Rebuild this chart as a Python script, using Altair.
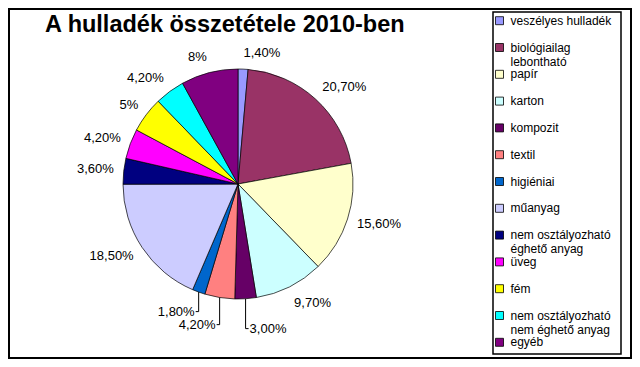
import altair as alt
import pandas as pd

# ---- data ----
categories = [
    "veszélyes hulladék", "biológiailag lebontható", "papír", "karton",
    "kompozit", "textil", "higiéniai", "műanyag",
    "nem osztályozható éghető anyag", "üveg", "fém",
    "nem osztályozható nem éghető anyag", "egyéb",
]
values = [1.4, 20.7, 15.6, 9.7, 3.0, 4.2, 1.8, 18.5, 3.6, 4.2, 5.0, 4.2, 8.0]
pct_labels = ["1,40%", "20,70%", "15,60%", "9,70%", "3,00%", "4,20%", "1,80%",
              "18,50%", "3,60%", "4,20%", "5%", "4,20%", "8%"]
colors = ["#9999FF", "#993366", "#FFFFCC", "#CCFFFF", "#660066", "#FF8080",
          "#0066CC", "#CCCCFF", "#000080", "#FF00FF", "#FFFF00", "#00FFFF",
          "#800080"]
legend_wrap = {
    "biológiailag lebontható": ["biológiailag", "lebontható"],
    "nem osztályozható éghető anyag": ["nem osztályozható", "éghető anyag"],
    "nem osztályozható nem éghető anyag": ["nem osztályozható", "nem éghető anyag"],
}
title_text = "A hulladék összetétele 2010-ben"

df = pd.DataFrame({
    "cat": categories,
    "value": values,
    "lab": pct_labels,
    "idx": list(range(len(categories))),
    "legtext": ["|".join(legend_wrap.get(c, [c])) for c in categories],
})
total = float(sum(values))

FONT = "Liberation Sans"
W, H = 624, 351
CX, CY = 230, 176          # pie centre (chart coordinates)
R = 115                    # pie radius
GAP = 10                   # gap between pie edge and label
LH = 13                    # label font size
TWO_PI = 6.283185307179586

theta_scale = alt.Scale(domain=[0, total], range=[0, TWO_PI])
color_scale = alt.Scale(domain=categories, range=colors)

base = alt.Chart(df)

pie = base.mark_arc(outerRadius=R, stroke="#000", strokeWidth=0.7).encode(
    theta=alt.Theta("value:Q", stack=True, scale=theta_scale),
    color=alt.Color("cat:N", sort=categories, scale=color_scale, legend=None),
    order=alt.Order("idx:Q"),
    x=alt.value(CX), y=alt.value(CY),
)

# label geometry derived from each slice's middle angle
lab_base = base.transform_window(
    cum="sum(value)", sort=[alt.SortField("idx")]
).transform_calculate(
    mid="datum.cum - datum.value / 2",
).transform_calculate(
    ang=f"datum.mid / {total} * {TWO_PI}",
).transform_calculate(
    s="sin(datum.ang)", c="cos(datum.ang)",
).transform_calculate(
    push="14 * pow(max(0, -datum.c), 20)",
    px=f"{CX} + {R + GAP} * datum.s",
    xe=f"{CX} + {R} * datum.s",
    ye=f"{CY} - {R} * datum.c",
).transform_calculate(
    lead="datum.push > 3",
    py=f"{CY} - {R + GAP + LH / 2} * datum.c + datum.push",
).transform_calculate(
    tx="datum.lead ? (datum.s >= 0 ? max(datum.px, datum.xe + 4) : min(datum.px, datum.xe - 4)) : datum.px",
).transform_calculate(
    hx2="datum.s >= 0 ? datum.tx - 1 : datum.tx + 1",
)


def label_layer(cond, align):
    return lab_base.transform_filter(cond).mark_text(
        align=align, baseline="middle", font=FONT, fontSize=LH, color="#000"
    ).encode(
        x=alt.X("tx:Q", scale=None), y=alt.Y("py:Q", scale=None), text="lab:N",
    )


labels_right = label_layer("datum.mid < 50", "left")
labels_left = label_layer("datum.mid >= 50", "right")

leader_v = lab_base.transform_filter("datum.lead").mark_rule(color="#000", strokeWidth=1).encode(
    x=alt.X("xe:Q", scale=None), y=alt.Y("ye:Q", scale=None), y2="py:Q",
)
leader_h = lab_base.transform_filter("datum.lead").mark_rule(color="#000", strokeWidth=1).encode(
    x=alt.X("xe:Q", scale=None), x2="hx2:Q", y=alt.Y("py:Q", scale=None),
)

# legend drawn as marks
leg_y = alt.Y("idx:Q", scale=alt.Scale(domain=[0, 12], range=[12.7, 334.3]), axis=None)
leg_sym = base.mark_square(size=64, stroke="#000", strokeWidth=0.8, opacity=1).encode(
    x=alt.value(491.5), y=leg_y,
    color=alt.Color("cat:N", sort=categories, scale=color_scale, legend=None),
)
leg_txt = base.mark_text(
    align="left", baseline="alphabetic", dy=4, lineBreak="|", lineHeight=14,
    font=FONT, fontSize=12, color="#000",
).encode(x=alt.value(502.5), y=leg_y, text="legtext:N")

one = alt.Data(values=[{"k": 1}])
frame = alt.Chart(one).mark_rect(fill="white", stroke="#000", strokeWidth=2).encode(
    x=alt.value(1), x2=alt.value(W - 1), y=alt.value(1), y2=alt.value(H - 1)
)
legend_box = alt.Chart(one).mark_rect(fill="white", stroke="#000", strokeWidth=1.5).encode(
    x=alt.value(485), x2=alt.value(613), y=alt.value(4), y2=alt.value(346)
)
title = alt.Chart(one).mark_text(
    align="left", baseline="alphabetic", font=FONT, fontSize=23.5,
    fontWeight="bold", color="#000"
).encode(x=alt.value(37), y=alt.value(24), text=alt.value(title_text))

chart = alt.layer(
    frame, legend_box, pie, leader_v, leader_h, labels_right, labels_left,
    leg_sym, leg_txt, title
).resolve_scale(x="independent", y="independent").properties(
    width=W, height=H, padding=0,
    autosize=alt.AutoSizeParams(type="none"),
).configure_view(stroke=None).configure(background="white")

chart.save("out.html", embed_options={"renderer": "svg", "actions": False})
